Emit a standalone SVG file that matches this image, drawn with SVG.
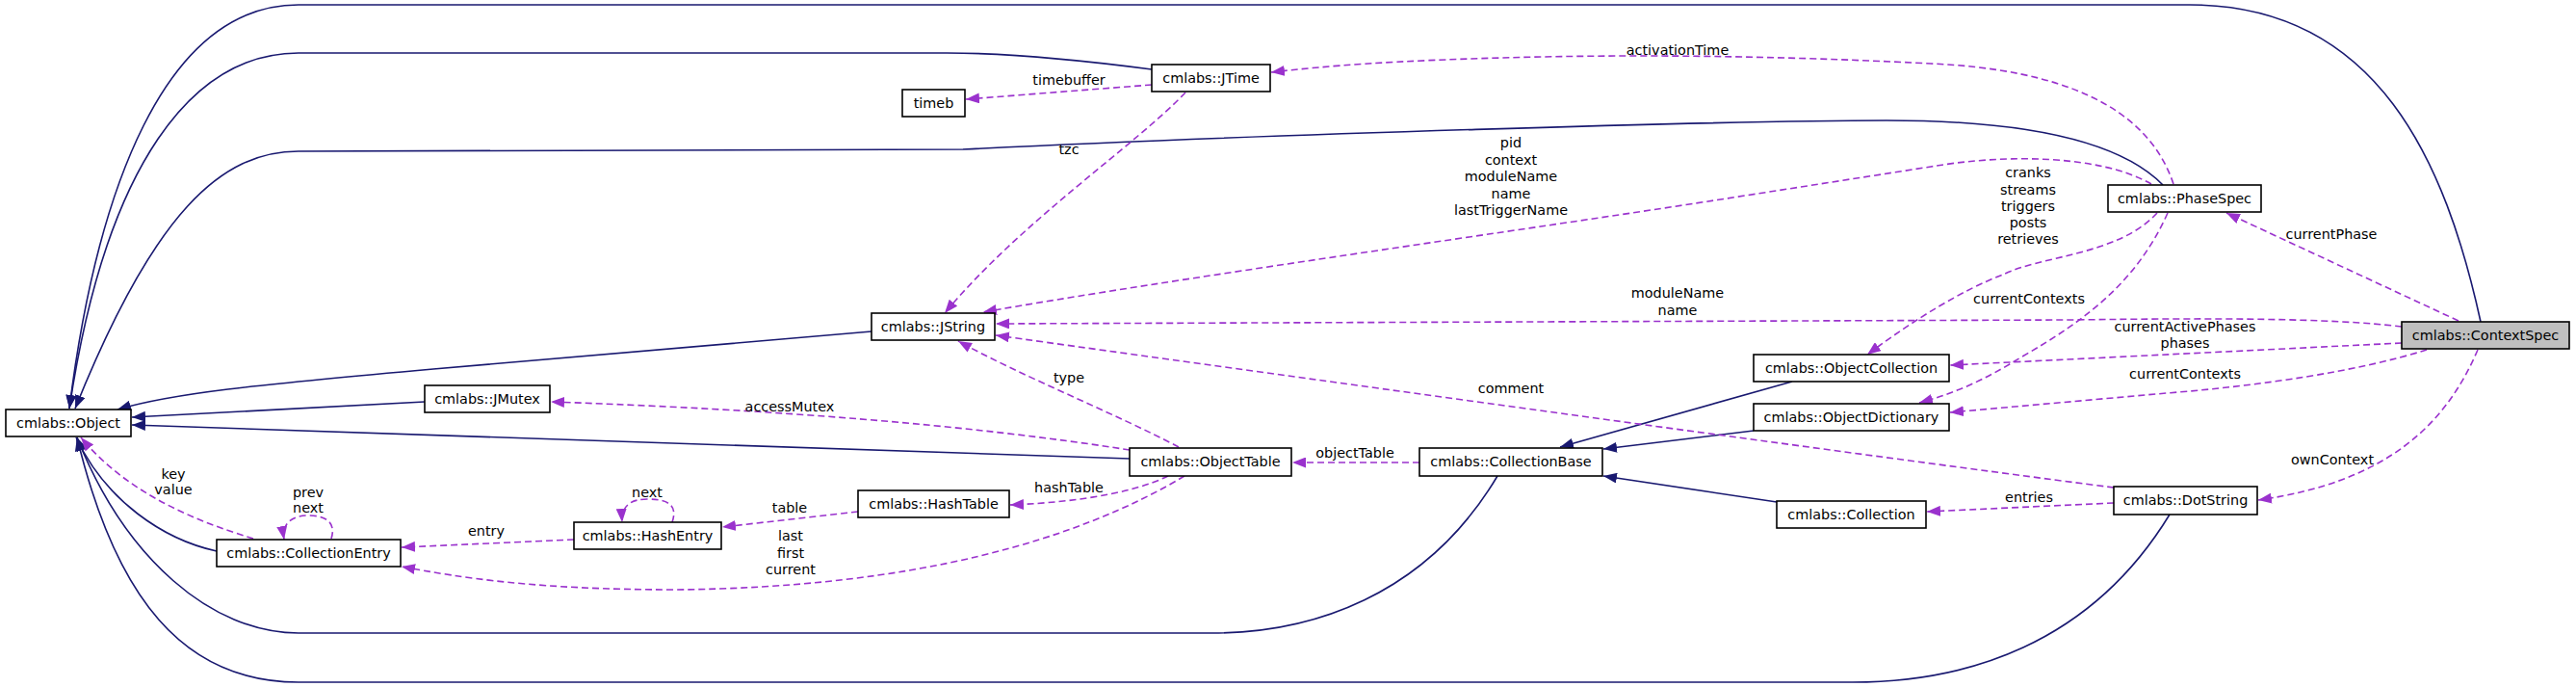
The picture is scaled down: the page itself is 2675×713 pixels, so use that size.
<svg xmlns="http://www.w3.org/2000/svg" width="2675" height="713" viewBox="0 0 2675 713">
<defs>
<style>
.n rect{fill:#fff;stroke:#000;stroke-width:1.6}
.n.hl rect{fill:#bfbfbf}
text{font-family:"DejaVu Sans","Liberation Sans",sans-serif;font-size:14.4px;fill:#000}
.n text{text-anchor:middle}
.lbl text{text-anchor:middle}
.inh{fill:none;stroke:#191970;stroke-width:1.6;marker-end:url(#an)}
.use{fill:none;stroke:#9a32cd;stroke-width:1.6;stroke-dasharray:7,4;marker-end:url(#ap)}
</style>
<marker id="an" markerUnits="userSpaceOnUse" markerWidth="15" markerHeight="11" refX="14" refY="5.5" orient="auto"><path d="M0,0 L14,5.5 L0,11 z" fill="#191970"/></marker>
<marker id="ap" markerUnits="userSpaceOnUse" markerWidth="15" markerHeight="11" refX="14" refY="5.5" orient="auto"><path d="M0,0 L14,5.5 L0,11 z" fill="#9a32cd"/></marker>
</defs>
<rect width="2675" height="713" fill="#fff"/>
<g id="connectors">
<path class="inh" d="M2576,334 C2540,170 2470,5 2274,5 L310,5 C170,5 100,200 72,424"/>
<path class="inh" d="M1196,72 C1120,62 1040,55 983,55 L310,55 C200,55 110,170 72,424"/>
<path class="inh" d="M2246,192 C2200,145 2100,125 1959,125 C1800,125 1300,140 1000,155 L310,157 C230,157 160,220 78,424"/>
<path class="inh" d="M905,344 L450,383 C260,400 180,408 122,425"/>
<path class="inh" d="M441,417 L137,433"/>
<path class="inh" d="M1173,476 L137,441"/>
<path class="inh" d="M225,572 C170,560 110,520 79,454"/>
<path class="inh" d="M1555,494 C1480,620 1360,657 1259,657 L310,657 C220,657 130,580 80,454"/>
<path class="inh" d="M2253,534 C2170,670 2040,708 1924,708 L310,708 C190,708 120,620 80,454"/>
<path class="inh" d="M1861,396 L1620,464"/>
<path class="inh" d="M1821,447 L1665,466"/>
<path class="inh" d="M1845,521 L1665,494"/>
<path class="use" d="M1196,88 L1003,103"/>
<path class="use" d="M2257,191 C2230,110 2140,72 2005,66 C1850,58 1700,56 1560,60 C1450,63 1380,68 1320,75"/>
<path class="use" d="M1231,96 C1180,150 1060,230 981,325"/>
<path class="use" d="M2234,191 C2180,160 2080,160 2005,173 L1780,208 C1600,236 1200,292 1021,324"/>
<path class="use" d="M2494,339 C2420,330 2300,330 2150,332 L1034,336"/>
<path class="use" d="M2195,506 C1900,468 1300,385 1034,348"/>
<path class="use" d="M1224,464 C1160,430 1060,390 995,354"/>
<path class="use" d="M1173,467 C1000,440 800,425 572,417"/>
<path class="use" d="M1213,494 C1170,515 1100,522 1049,524"/>
<path class="use" d="M1230,494 C1120,560 950,610 700,612 C560,612 480,600 417,588"/>
<path class="use" d="M891,531 L750,547"/>
<path class="use" d="M698,542 C705,522 690,518 672,518 C655,518 645,525 646,542"/>
<path class="use" d="M596,560 L417,568"/>
<path class="use" d="M344,559 C350,540 335,535 320,535 C305,535 292,542 295,560"/>
<path class="use" d="M263,559 C200,540 130,510 84,454"/>
<path class="use" d="M1474,480 L1342,480"/>
<path class="use" d="M2240,221 C2200,265 2120,265 2080,285 C2040,300 1990,330 1939,368"/>
<path class="use" d="M2251,221 C2220,290 2170,330 2100,370 C2060,395 2030,408 1993,418"/>
<path class="use" d="M2553,333 L2312,221"/>
<path class="use" d="M2494,356 L2025,379"/>
<path class="use" d="M2520,363 C2450,385 2350,400 2250,408 L2025,428"/>
<path class="use" d="M2573,363 C2540,440 2480,500 2345,519"/>
<path class="use" d="M2195,522 L2001,531"/>
</g>
<g id="labels" class="lbl">
<text x="1110" y="88">timebuffer</text>
<text x="1742" y="57">activationTime</text>
<text x="1110" y="160">tzc</text>
<text x="1569" y="153">pid</text>
<text x="1569" y="171">context</text>
<text x="1569" y="188">moduleName</text>
<text x="1569" y="206">name</text>
<text x="1569" y="223">lastTriggerName</text>
<text x="1742" y="309">moduleName</text>
<text x="1742" y="327">name</text>
<text x="1569" y="408">comment</text>
<text x="1110" y="397">type</text>
<text x="820" y="427">accessMutex</text>
<text x="1110" y="511">hashTable</text>
<text x="821" y="561">last</text>
<text x="821" y="579">first</text>
<text x="821" y="596">current</text>
<text x="820" y="532">table</text>
<text x="672" y="516">next</text>
<text x="505" y="556">entry</text>
<text x="320" y="516">prev</text>
<text x="320" y="532">next</text>
<text x="180" y="497">key</text>
<text x="180" y="513">value</text>
<text x="1407" y="475">objectTable</text>
<text x="2106" y="184">cranks</text>
<text x="2106" y="202">streams</text>
<text x="2106" y="219">triggers</text>
<text x="2106" y="236">posts</text>
<text x="2106" y="253">retrieves</text>
<text x="2107" y="315">currentContexts</text>
<text x="2421" y="248">currentPhase</text>
<text x="2269" y="344">currentActivePhases</text>
<text x="2269" y="361">phases</text>
<text x="2269" y="393">currentContexts</text>
<text x="2422" y="482">ownContext</text>
<text x="2107" y="521">entries</text>
</g>
<g id="Object" class="n"><rect x="6" y="425" width="130" height="28"/><text x="71" y="444">cmlabs::Object</text></g>
<g id="JMutex" class="n"><rect x="441" y="400" width="130" height="28"/><text x="506" y="419">cmlabs::JMutex</text></g>
<g id="CollectionEntry" class="n"><rect x="225" y="560" width="191" height="28"/><text x="320.5" y="579">cmlabs::CollectionEntry</text></g>
<g id="HashEntry" class="n"><rect x="596" y="542" width="153" height="28"/><text x="672.5" y="561">cmlabs::HashEntry</text></g>
<g id="HashTable" class="n"><rect x="891" y="509" width="157" height="28"/><text x="969.5" y="528">cmlabs::HashTable</text></g>
<g id="timeb" class="n"><rect x="937" y="93" width="65" height="28"/><text x="969.5" y="112">timeb</text></g>
<g id="JTime" class="n"><rect x="1196" y="67" width="123" height="28"/><text x="1257.5" y="86">cmlabs::JTime</text></g>
<g id="JString" class="n"><rect x="905" y="325" width="128" height="28"/><text x="969" y="344">cmlabs::JString</text></g>
<g id="ObjectTable" class="n"><rect x="1173" y="465" width="168" height="29"/><text x="1257" y="484">cmlabs::ObjectTable</text></g>
<g id="CollectionBase" class="n"><rect x="1474" y="465" width="190" height="29"/><text x="1569" y="484">cmlabs::CollectionBase</text></g>
<g id="PhaseSpec" class="n"><rect x="2189" y="192" width="159" height="28"/><text x="2268.5" y="211">cmlabs::PhaseSpec</text></g>
<g id="ContextSpec" class="n hl"><rect x="2494" y="334" width="174" height="28"/><text x="2581" y="353">cmlabs::ContextSpec</text></g>
<g id="ObjectCollection" class="n"><rect x="1821" y="368" width="203" height="28"/><text x="1922.5" y="387">cmlabs::ObjectCollection</text></g>
<g id="ObjectDictionary" class="n"><rect x="1821" y="419" width="203" height="28"/><text x="1922.5" y="438">cmlabs::ObjectDictionary</text></g>
<g id="Collection" class="n"><rect x="1845" y="520" width="155" height="28"/><text x="1922.5" y="539">cmlabs::Collection</text></g>
<g id="DotString" class="n"><rect x="2195" y="505" width="149" height="29"/><text x="2269.5" y="524">cmlabs::DotString</text></g>
</svg>
